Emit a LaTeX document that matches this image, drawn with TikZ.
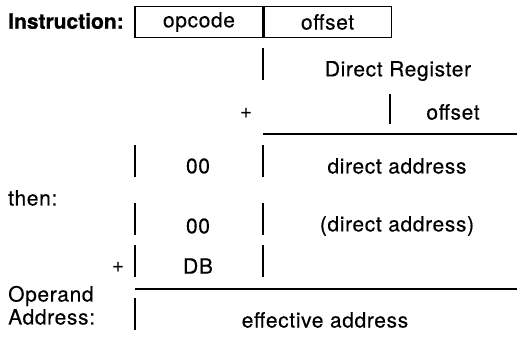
\documentclass[tikz,border=0pt]{standalone}
\usepackage{fontspec}
\setmainfont{TeX Gyre Heros}[LetterSpace=3, FakeBold=0.3]
\begin{document}
\begin{tikzpicture}[x=1pt,y=-1pt,
  every node/.style={font=\fontsize{21}{24}\selectfont, inner sep=0pt},
  field/.style={draw, line width=1.1pt, minimum height=31pt, inner sep=0pt},
  tick/.style={line width=1.1pt},
  rule/.style={line width=1.1pt},
  lbl/.style={anchor=west}]
\useasboundingbox (0,0) rectangle (517,337);
% instruction
\node[lbl, font=\fontsize{21}{24}\selectfont\bfseries\addfontfeature{LetterSpace=0, FakeBold=1}] (instr) at (8,21) {Instruction:};
\node[field, minimum width=128pt] (opc) at (199,22) {opcode};
\node[field, minimum width=127pt, anchor=west] (off) at (opc.east) {offset};
% direct register
\coordinate (t1a) at (263,48); \coordinate (t1b) at (263,80);
\draw[tick] (t1a) -- (t1b);
\node (dr) at (398,71) {Direct Register};
\node (plus1) at (246,113) {+};
\coordinate (t2a) at (390,94); \coordinate (t2b) at (390,124);
\draw[tick] (t2a) -- (t2b);
\node (off2) at (453,112) {offset};
\coordinate (h1a) at (263,134); \coordinate (h1b) at (517,134);
\draw[rule] (h1a) -- (h1b);
% row 00 | direct address
\draw[tick] (135,145) -- (135,177);
\draw[tick] (263,145) -- (263,177);
\node (z1) at (198,166) {00};
\node (da) at (397,166) {direct address};
\node[lbl] (then) at (8,198) {then:};
% row 00 | (direct address)
\draw[tick] (135,203) -- (135,235);
\draw[tick] (263,203) -- (263,235);
\node (z2) at (198,226) {00};
\node (pda) at (397,226) {(direct address)};
% row + DB
\node (plus2) at (118,267) {+};
\draw[tick] (135,245) -- (135,277);
\draw[tick] (263,245) -- (263,277);
\node (db) at (198,266) {DB};
\coordinate (h2a) at (135,289); \coordinate (h2b) at (517,289);
\draw[rule] (h2a) -- (h2b);
% operand address
\node[lbl] (op) at (8,296) {Operand};
\node[lbl] (ad) at (8,317) {Address:};
\draw[tick] (135,298) -- (135,330);
\node (ea) at (325,320) {effective address};
\end{tikzpicture}
\end{document}
